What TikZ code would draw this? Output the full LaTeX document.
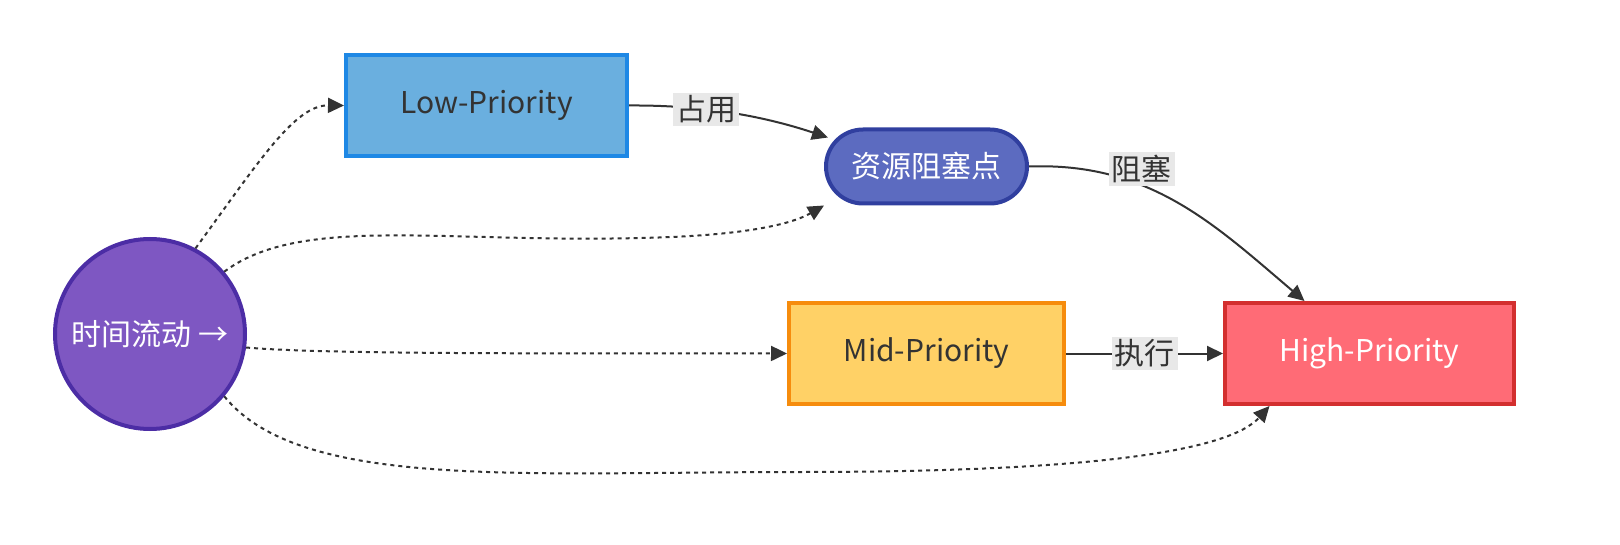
\documentclass[tikz,border=0pt]{standalone}
\usepackage{fontspec}
\setmainfont{Noto Sans CJK SC}
\usetikzlibrary{arrows.meta}

\definecolor{timefill}{RGB}{126,87,194}
\definecolor{timeline}{RGB}{76,45,165}
\definecolor{lowfill}{RGB}{106,175,223}
\definecolor{lowline}{RGB}{30,136,229}
\definecolor{blockfill}{RGB}{92,107,192}
\definecolor{blockline}{RGB}{48,63,159}
\definecolor{midfill}{RGB}{255,209,102}
\definecolor{midline}{RGB}{246,140,13}
\definecolor{highfill}{RGB}{255,107,118}
\definecolor{highline}{RGB}{211,47,47}
\definecolor{txt}{RGB}{51,51,51}
\definecolor{lblbg}{RGB}{232,232,232}

\begin{document}
\begin{tikzpicture}[x=1pt,y=-1pt,>={Triangle[length=16pt,width=15pt]},
    box/.style={draw, line width=4pt, minimum width=281pt, minimum height=101pt, font=\fontsize{30}{32}\selectfont, text=txt},
    lbl/.style={fill=lblbg, inner sep=3pt, font=\fontsize{30}{32}\selectfont, text=txt},
    flow/.style={->, line width=2pt, txt, dash pattern=on 4pt off 4pt},
    link/.style={->, line width=2pt, txt},
]
    \useasboundingbox (0,0) rectangle (1620,545);
    % nodes
    \node (time) [circle, draw=timeline, fill=timefill, line width=4pt, minimum size=190pt, inner sep=0pt, text=white, font=\fontsize{30}{32}\selectfont] at (150,334) {时间流动 →};
    \node (low) [box, draw=lowline, fill=lowfill] at (486.5,105.5) {Low-Priority};
    \node (block) [draw=blockline, fill=blockfill, line width=4pt, rounded corners=37pt, minimum width=201pt, minimum height=74pt, text=white, font=\fontsize{30}{32}\selectfont] at (926.5,166.5) {资源阻塞点};
    \node (mid) [box, draw=midline, fill=midfill, minimum width=275pt] at (926.5,353.5) {Mid-Priority};
    \node (high) [box, draw=highline, fill=highfill, minimum width=289pt, text=white] at (1369.5,353.5) {High-Priority};
    % dotted time lines
    \draw[flow] (time.62) .. controls (260,160) and (295,105) .. (low.west);
    \draw[flow] (time.40) .. controls (300,215) and (440,243) .. (640,238) .. controls (740,236) and (790,225) .. (block.south west);
    \draw[flow] (time.-8) .. controls (330,355) and (600,353) .. (mid.west);
    \draw[flow] (time.-40) .. controls (300,490) and (520,472) .. (800,472) .. controls (1100,472) and (1230,450) .. ([xshift=-100pt]high.south);
    % solid edges with labels
    \draw[link] (low.east) .. controls (700,105) and (760,115) .. ([xshift=4pt,yshift=-10pt]block.north west) node [lbl, pos=0.38] {占用};
    \draw[link] (block.east) .. controls (1150,162) and (1215,225) .. ([xshift=-65pt]high.north) node [lbl, pos=0.36, yshift=16pt] {阻塞};
    \draw[link] (mid.east) -- (high.west) node [lbl, midway] {执行};
\end{tikzpicture}
\end{document}
